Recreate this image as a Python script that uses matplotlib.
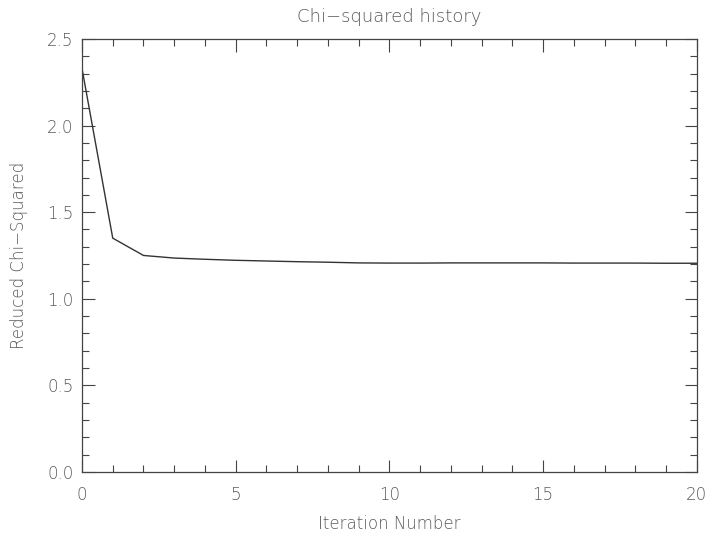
import matplotlib
matplotlib.use("Agg")
import matplotlib.pyplot as plt
from matplotlib.ticker import MultipleLocator, FuncFormatter

iterations = [0, 1, 2, 3, 4, 5, 6, 7, 8, 9, 10, 11, 12, 13, 14, 15, 16, 17, 18, 19, 20]
chi2 = [2.33, 1.35, 1.25, 1.235, 1.228, 1.222, 1.218, 1.214, 1.211, 1.207, 1.206, 1.206,
        1.207, 1.207, 1.207, 1.207, 1.206, 1.206, 1.206, 1.205, 1.205]

txt = "#5a5a5a"
fig = plt.figure(figsize=(7.1, 5.35), dpi=100)
ax = fig.add_axes([0.1155, 0.118, 0.866, 0.809])
ax.plot(iterations, chi2, color="#333333", lw=1.0)
ax.set_xlim(0, 20)
ax.set_ylim(0, 2.5)
ax.xaxis.set_major_locator(MultipleLocator(5))
ax.xaxis.set_minor_locator(MultipleLocator(1))
ax.yaxis.set_major_locator(MultipleLocator(0.5))
ax.yaxis.set_minor_locator(MultipleLocator(0.1))
ax.xaxis.set_major_formatter(FuncFormatter(lambda v, p: f"{v:.0f}"))
ax.yaxis.set_major_formatter(FuncFormatter(lambda v, p: f"{v:.1f}"))
ax.tick_params(which="both", direction="in", top=True, right=True, color="#444444",
               labelcolor=txt, labelsize=12)
ax.tick_params(which="major", length=9, width=0.8)
ax.tick_params(which="minor", length=5, width=0.8)
ax.tick_params(axis="x", pad=10)
ax.tick_params(axis="y", pad=6)
for lab in ax.get_xticklabels() + ax.get_yticklabels():
    lab.set_fontweight("light")
for s in ax.spines.values():
    s.set_color("#444444")
    s.set_linewidth(0.9)
ax.set_title("Chi\u2212squared history", color=txt, fontsize=13, pad=12, fontweight="light")
ax.set_xlabel("Iteration Number", color=txt, fontsize=12, labelpad=8, fontweight="light")
ax.set_ylabel("Reduced Chi\u2212Squared", color=txt, fontsize=12, labelpad=14, fontweight="light")
fig.savefig("out.png", dpi=100)
